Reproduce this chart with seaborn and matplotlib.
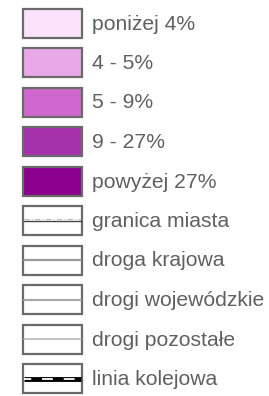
import matplotlib
matplotlib.use("Agg")
import matplotlib.pyplot as plt
from matplotlib.patches import Rectangle
import seaborn as sns

sns.set_theme(style="white")
plt.rcParams['font.family'] = ['Liberation Sans', 'DejaVu Sans']

# legend content
class_labels = ["poniżej 4%", "4 - 5%", "5 - 9%", "9 - 27%", "powyżej 27%"]
class_colors = ["#fbe3fb", "#e9a9e9", "#cf67cf", "#a532ab", "#8c008f"]
line_labels = ["granica miasta", "droga krajowa", "drogi wojewódzkie",
               "drogi pozostałe", "linia kolejowa"]

fig = plt.figure(figsize=(2.69, 3.96), dpi=100)
ax = fig.add_axes([0, 0, 1, 1])
ax.set_xlim(0, 269)
ax.set_ylim(396, 0)
ax.axis("off")

x0, w, h = 22.5, 59.5, 29
step = 39.5
text_kw = dict(fontsize=15.2, color="#606060", va="center", ha="left")

for i, (lab, col) in enumerate(zip(class_labels, class_colors)):
    yc = 23 + step * i
    ax.add_patch(Rectangle((x0, yc - h / 2), w, h, facecolor=col,
                           edgecolor="#6a6a6a", lw=1.6))
    ax.text(92, yc + 1, lab, **text_kw)

for j, lab in enumerate(line_labels):
    yc = 23 + step * (j + 5)
    ax.add_patch(Rectangle((x0, yc - h / 2), w, h, facecolor="white",
                           edgecolor="#6a6a6a", lw=1.6))
    xs = [x0 + 1, x0 + w - 1]
    if j == 0:
        ax.plot(xs, [yc, yc], color="#444444", lw=1.0)
        ax.plot(xs, [yc - 2, yc - 2], color="#aaaaaa", lw=0.6, ls=(0, (6, 3, 1, 3)))
    elif j == 1:
        ax.plot(xs, [yc, yc], color="#999999", lw=1.6)
    elif j == 2:
        ax.plot(xs, [yc, yc], color="#a8a8a8", lw=1.5)
    elif j == 3:
        ax.plot(xs, [yc, yc], color="#b8b8b8", lw=1.2)
    else:
        ax.plot(xs, [yc, yc], color="black", lw=3.5, solid_capstyle="butt")
        ax.plot(xs, [yc, yc], color="white", lw=1.3, ls=(2, (6, 6)))
    ax.text(92, yc + 1, lab, **text_kw)

fig.savefig("out.png", dpi=100)
